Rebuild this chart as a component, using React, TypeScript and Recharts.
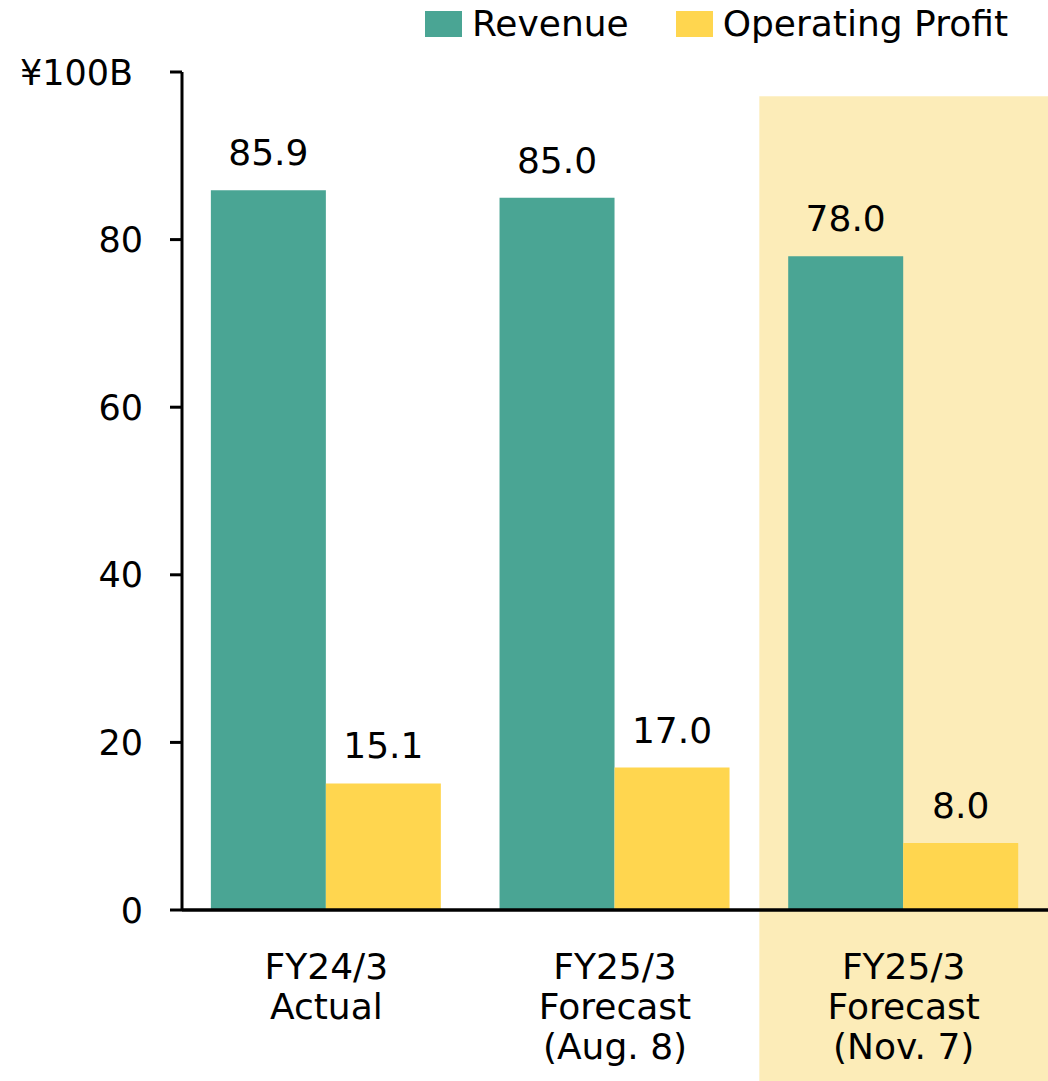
import {
  BarChart,
  Bar,
  XAxis,
  YAxis,
  Legend,
  LabelList,
  ReferenceArea,
} from "recharts";

const categories = [
  "FY24/3\nActual",
  "FY25/3\nForecast\n(Aug. 8)",
  "FY25/3\nForecast\n(Nov. 7)",
];
const seriesNames = ["Revenue", "Operating Profit"];
const revenue = [85.9, 85.0, 78.0];
const operatingProfit = [15.1, 17.0, 8.0];
const yTicks = [0, 20, 40, 60, 80, 100];
const highlighted = categories[2];

const TEAL = "#4AA594";
const YELLOW = "#FFD64F";
const HIGHLIGHT = "#FCECB8";
const FONT = "DejaVu Sans";

const data = categories.map((c, i) => ({
  name: c,
  Revenue: revenue[i],
  "Operating Profit": operatingProfit[i],
}));

function YTick(props: any) {
  const { x, y, payload } = props;
  const isTop = payload.value === 100;
  return (
    <text
      x={isTop ? x - 10 : x}
      y={y}
      dy="0.36em"
      textAnchor="end"
      fontSize={35}
      fontFamily={FONT}
      fill="#000"
    >
      {isTop ? "¥100B" : payload.value}
    </text>
  );
}

function XTick(props: any) {
  const { x, y, payload } = props;
  const lines = String(payload.value).split("\n");
  return (
    <text
      x={x}
      y={y + 61}
      textAnchor="middle"
      fontSize={36}
      fontFamily={FONT}
      fill="#000"
    >
      {lines.map((l, i) => (
        <tspan key={i} x={x} dy={i === 0 ? 0 : 40}>
          {l}
        </tspan>
      ))}
    </text>
  );
}

function LegendContent(props: any) {
  const items = [...(props.payload || [])].sort(
    (a: any, b: any) => seriesNames.indexOf(a.value) - seriesNames.indexOf(b.value)
  );
  return (
    <div
      style={{
        display: "flex",
        justifyContent: "flex-end",
        alignItems: "center",
        height: 38,
        paddingRight: 40,
        gap: 47,
        fontFamily: FONT,
        fontSize: 36,
        lineHeight: 1,
      }}
    >
      {items.map((it: any) => (
        <div key={it.value} style={{ display: "flex", alignItems: "center" }}>
          <span
            style={{
              display: "inline-block",
              width: 37,
              height: 26,
              background: it.color,
              marginRight: 10,
            }}
          />
          <span style={{ color: "#000" }}>{it.value}</span>
        </div>
      ))}
    </div>
  );
}

export default function App() {
  return (
    <div
      style={{
        position: "absolute",
        top: 0,
        left: 0,
        width: 1048,
        height: 1081,
        overflow: "hidden",
        background: "#fff",
      }}
    >
      <BarChart
        width={1048}
        height={1081}
        data={data}
        margin={{ top: 72, right: 0, bottom: 0, left: 0 }}
        barGap={0}
        barCategoryGap="10%"
        style={{ fontFamily: FONT }}
      >
        <ReferenceArea
          x1={highlighted}
          x2={highlighted}
          y1={-21}
          y2={97.1}
          ifOverflow="visible"
          fill={HIGHLIGHT}
          fillOpacity={1}
          stroke="none"
        />
        <XAxis
          dataKey="name"
          tickLine={false}
          axisLine={{ stroke: "#000", strokeWidth: 3.5 }}
          tick={<XTick />}
          height={171}
          interval={0}
        />
        <YAxis
          domain={[0, 100]}
          ticks={yTicks}
          width={182}
          tickSize={12}
          tickMargin={27}
          axisLine={{ stroke: "#000", strokeWidth: 3 }}
          tickLine={{ stroke: "#000", strokeWidth: 3 }}
          tick={<YTick />}
          allowDataOverflow
        />
        <Legend
          layout="horizontal"
          verticalAlign="middle"
          align="center"
          wrapperStyle={{ top: 5, left: 0, width: 1048 }}
          content={<LegendContent />}
        />
        <Bar dataKey="Revenue" fill={TEAL} isAnimationActive={false}>
          <LabelList
            dataKey="Revenue"
            position="top"
            offset={25}
            fontSize={36}
            fontFamily={FONT}
            fill="#000"
            formatter={(v: any) => Number(v).toFixed(1)}
          />
        </Bar>
        <Bar dataKey="Operating Profit" fill={YELLOW} isAnimationActive={false}>
          <LabelList
            dataKey="Operating Profit"
            position="top"
            offset={25}
            fontSize={36}
            fontFamily={FONT}
            fill="#000"
            formatter={(v: any) => Number(v).toFixed(1)}
          />
        </Bar>
      </BarChart>
    </div>
  );
}
